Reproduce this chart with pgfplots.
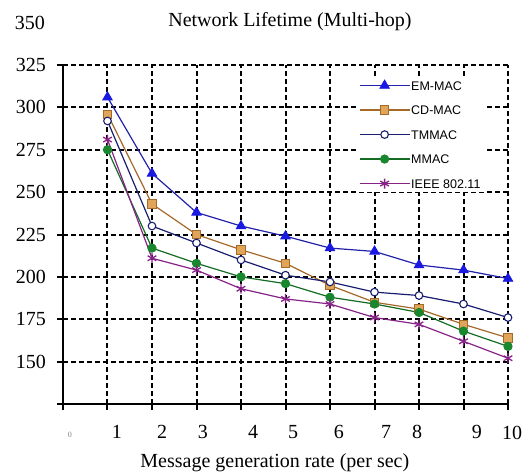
\documentclass[border=0pt]{standalone}
\usepackage{fontspec}
\setmainfont{Liberation Serif}
\newfontfamily\legfont{Liberation Sans}
\usepackage{pgfplots}
\pgfplotsset{compat=1.18}

\definecolor{emblue}{RGB}{25,25,225}
\definecolor{emline}{RGB}{35,35,170}
\definecolor{cdline}{RGB}{165,105,40}
\definecolor{cdfill}{RGB}{225,165,90}
\definecolor{tmline}{RGB}{25,30,110}
\definecolor{mmgreen}{RGB}{25,135,45}
\definecolor{ieee}{RGB}{135,35,135}

\begin{document}
\begin{tikzpicture}
\begin{axis}[
  scale only axis, width=445pt, height=339pt,
  xmin=0, xmax=10, ymin=125, ymax=325,
  clip=false,
  axis lines*=left,
  axis line style={-, line width=2.2pt, black},
  /pgf/number format/assume math mode=true,
  font=\fontsize{20}{24}\selectfont,
  xtick={1.213,2.225,3.146,4.27,5.17,6.20,7.26,7.955,9.30},
  xticklabels={1,2,3,4,5,6,7,8,9},
  major x tick style={draw=none},
  minor xtick={0,1,2,3,4,5,6,7,8,9,10},
  xminorgrids=true, xmajorgrids=false,
  ytick={125,150,175,200,225,250,275,300,325},
  yticklabels={{},150,175,200,225,250,275,300,325},
  ymajorgrids=true,
  tick align=outside,
  major tick length=6pt, minor tick length=6pt,
  tick style={line width=2pt, black},
  minor x tick style={line width=2pt, black},
  grid style={line width=2pt, black, dash pattern=on 5pt off 3pt},
  minor grid style={line width=2pt, black, dash pattern=on 5pt off 3pt},
  yticklabel style={anchor=east, inner sep=0pt, xshift=-11pt},
  xticklabel style={anchor=north, inner sep=0pt, yshift=-15pt},
  title={Network Lifetime (Multi-hop)},
  title style={at={(0.51,1)}, anchor=base, yshift=33pt, font=\fontsize{20}{24}\selectfont, inner sep=0pt},
  xlabel={Message generation rate (per sec)},
  xlabel style={at={(0.476,0)}, anchor=base, yshift=-63pt, inner sep=0pt},
  legend style={at={(0.658,0.965)}, anchor=north west, draw=none, fill=white,
    font=\legfont\fontsize{12.5}{14}\selectfont,
    nodes={inner sep=1pt, text height=9pt, text depth=0pt}, row sep=13.5pt,
    inner sep=3pt},
  legend cell align=left,
  legend image code/.code={\draw[mark repeat=2,mark phase=2,#1] plot coordinates {(0pt,0pt)(25pt,0pt)(50pt,0pt)};},
  every axis plot/.append style={line width=1.2pt},
]
\addplot[emline, mark=triangle*, mark size=5.5pt, mark options={fill=emblue, draw=emblue, line width=0.8pt}]
  coordinates {(1,306)(2,261)(3,238)(4,230)(5,224)(6,217)(7,215)(8,207)(9,204)(10,199)};
\addlegendentry{EM-MAC}
\addplot[cdline, mark=square*, mark size=4.2pt, mark options={fill=cdfill, draw=cdline, line width=0.9pt}]
  coordinates {(1,296)(2,243)(3,225)(4,216)(5,208)(6,195)(7,185)(8,181)(9,172)(10,164)};
\addlegendentry{CD-MAC}
\addplot[tmline, mark=*, mark size=3.8pt, mark options={fill=white, draw=tmline, line width=1.1pt}]
  coordinates {(1,292)(2,230)(3,220)(4,210)(5,201)(6,197)(7,191)(8,189)(9,184)(10,176)};
\addlegendentry{TMMAC}
\addplot[mmgreen!80!black, mark=*, mark size=4pt, mark options={fill=mmgreen, draw=mmgreen}]
  coordinates {(1,275)(2,217)(3,208)(4,200)(5,196)(6,188)(7,184)(8,179)(9,168)(10,159)};
\addlegendentry{MMAC}
\addplot[ieee, mark=asterisk, mark size=5pt, mark options={draw=ieee, line width=1.3pt}]
  coordinates {(1,281)(2,211)(3,204)(4,193)(5,187)(6,184)(7,176)(8,172)(9,162)(10,152)};
\addlegendentry{IEEE 802.11}
\node[anchor=east, inner sep=0pt, xshift=-18pt] at (axis cs:0,350) {350};
\node[anchor=north, inner sep=0pt, yshift=-22pt] at (axis cs:10.09,125) {10};
\node[inner sep=0pt, text=gray, font=\fontsize{8}{9}\selectfont, yshift=-31pt] at (axis cs:0.157,125) {0};
\coordinate (bl) at (rel axis cs:0,0);
\coordinate (tr) at (rel axis cs:1,1);
\end{axis}
\path ([xshift=-63pt,yshift=-68pt]bl) rectangle ([xshift=14pt,yshift=65pt]tr);
\end{tikzpicture}
\end{document}
